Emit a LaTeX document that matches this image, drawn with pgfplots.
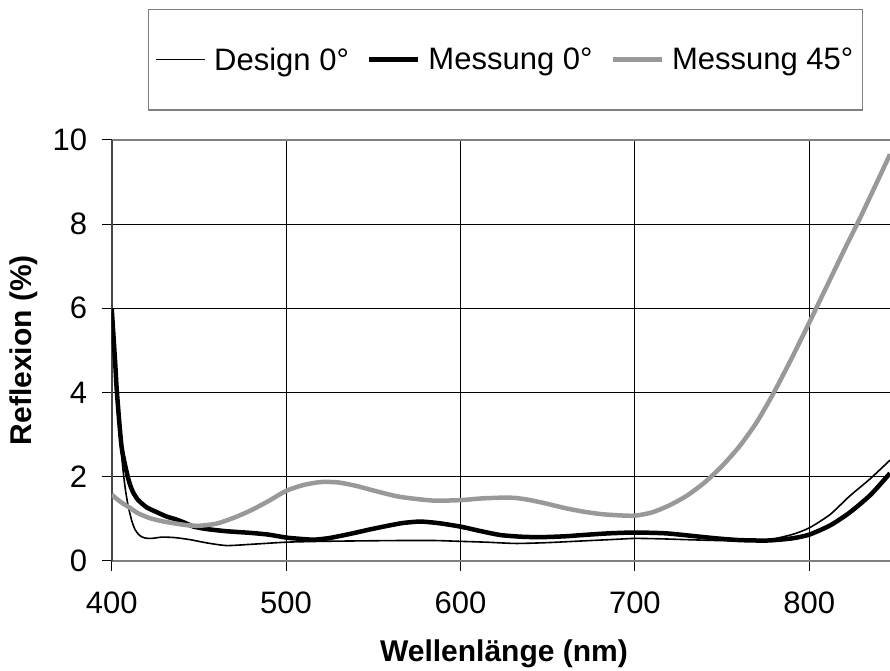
\documentclass[border=0pt]{standalone}
\usepackage{fontspec}
\setmainfont{Liberation Sans}
\usepackage{pgfplots}
\pgfplotsset{compat=1.18}
\definecolor{lgray}{RGB}{153,153,153}
\definecolor{axgray}{RGB}{128,128,128}
\definecolor{ygray}{RGB}{70,70,70}
\begin{document}
\begin{tikzpicture}
\useasboundingbox (-111.7pt,-109.3pt) rectangle (778.3pt,560.7pt);
\begin{axis}[
  at={(0pt,0pt)}, anchor=south west,
  scale only axis, width=778.3pt, height=420.7pt,
  xmin=400, xmax=846.3, ymin=0, ymax=10,
  xtick={400,500,600,700,800}, ytick={0,2,4,6,8,10},
  axis x line=box, axis y line=left,
  x axis line style={-, draw=axgray, line width=2.2pt},
  y axis line style={-, draw=ygray, line width=1.8pt},
  xtick pos=left, ytick pos=left,
  tick align=outside, major tick length=10pt,
  tick style={black, line width=1pt},
  grid=major, major grid style={black, line width=1pt},
  /pgf/number format/assume math mode=true,
  ticklabel style={font=\fontsize{31}{37}\selectfont},
  yticklabel style={anchor=east, inner sep=0pt, xshift=-14.4pt},
  xticklabel style={anchor=north, inner sep=0pt, yshift=-21.4pt},
  xlabel={Wellenlänge (nm)},
  ylabel={Reflexion (\%)},
  xlabel style={font=\fontsize{30}{36}\selectfont\bfseries, at={(axis description cs:0.504,-0.2384)}, anchor=base},
  ylabel style={font=\fontsize{30}{36}\selectfont\bfseries, at={(axis description cs:-0.1028,0.5008)}, anchor=base},
  legend columns=3,
  legend style={at={(0.5098,1.191)}, anchor=center, draw=none, fill=none,
    font=\fontsize{31}{37}\selectfont, inner sep=0pt,
    nodes={inner ysep=0pt, inner xsep=8pt},
    /tikz/every even column/.append style={column sep=10pt}},
  legend image code/.code={\draw[#1] (0pt,0pt) -- (49pt,0pt);},
]
\addplot[black, line width=1.6pt, smooth, tension=0.4] coordinates {
(400,5.9) (402,4.6) (403.5,3.6) (405,2.8) (406.7,2.08) (408,1.65) (409.5,1.29)
(411.5,0.95) (413.4,0.74) (416,0.60) (419,0.54) (423,0.53) (428.7,0.56) (436,0.55)
(445,0.50) (455,0.42) (466,0.36) (480,0.39) (500,0.44) (520,0.46) (540,0.47)
(566,0.48) (585,0.48) (600,0.46) (615,0.44) (632,0.41) (650,0.43) (670,0.47)
(690,0.51) (700,0.53) (715,0.52) (730,0.50) (747,0.48) (765,0.47) (776,0.49)
(790,0.62) (800,0.78) (812,1.10) (823,1.53) (835,1.95) (846.3,2.39)
};
\addlegendentry{Design 0°}
\addplot[black, line width=4.5pt, smooth, tension=0.4] coordinates {
(400,6.0) (402,4.7) (403,4.0) (405.7,2.7) (409.5,1.95) (412,1.65) (415,1.45)
(420,1.27) (425,1.17) (431.5,1.05) (437,0.98) (442,0.90) (447,0.81) (455,0.75)
(466,0.70) (480,0.66) (490,0.62) (500,0.55) (508,0.52) (516,0.50) (525,0.54)
(537,0.64) (550,0.76) (566,0.89) (577,0.93) (588,0.89) (600,0.81) (612,0.70)
(623,0.61) (635,0.57) (646,0.56) (660,0.58) (670,0.61) (685,0.65) (700,0.67)
(718,0.65) (735,0.58) (747,0.53) (760,0.49) (776,0.48) (790,0.53) (800,0.62)
(812,0.84) (823,1.14) (835,1.56) (846.3,2.08)
};
\addlegendentry{Messung 0°}
\addplot[lgray, line width=4.5pt, smooth, tension=0.4] coordinates {
(400,1.57) (405,1.40) (410,1.27) (415,1.13) (422,1.01) (430,0.93) (442,0.85)
(450,0.83) (460,0.88) (470,1.02) (480,1.20) (490,1.42) (500,1.66) (510,1.80)
(520,1.87) (530,1.86) (540,1.78) (550,1.67) (565,1.52) (584,1.43) (600,1.44)
(612,1.48) (625,1.50) (632,1.49) (640,1.44) (650,1.35) (660,1.25) (670,1.17)
(680,1.11) (690,1.08) (700,1.07) (710,1.15) (720,1.32) (730,1.55) (740,1.86)
(750,2.25) (760,2.72) (770,3.30) (780,4.02) (790,4.82) (800,5.66) (810,6.52)
(820,7.38) (830,8.22) (846.3,9.66)
};
\addlegendentry{Messung 45°}
\end{axis}
\draw[axgray, line width=1.2pt] (36.6pt,450.7pt) rectangle (751pt,551.4pt);
\end{tikzpicture}
\end{document}
